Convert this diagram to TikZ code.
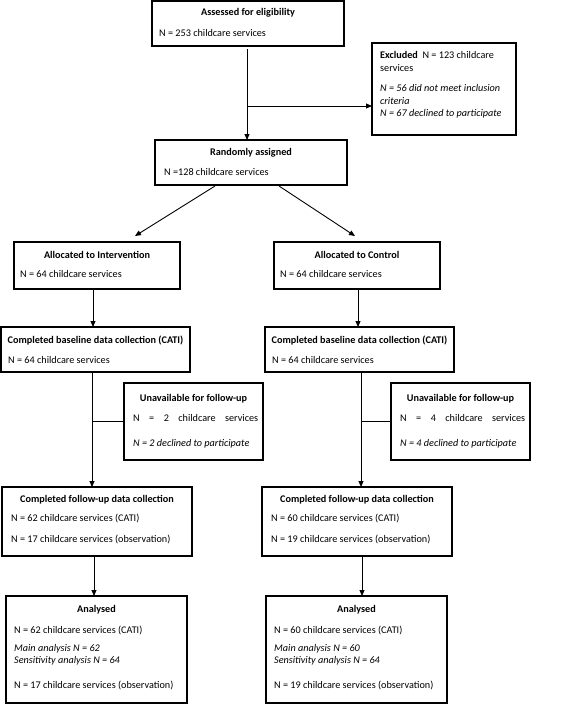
\documentclass[tikz,border=0pt]{standalone}
\usepackage{fontspec}
\setmainfont{Carlito}
\usetikzlibrary{arrows.meta,calc}
\begin{document}
\begin{tikzpicture}[x=1pt,y=-1pt,
  font=\fontsize{10.2}{13}\selectfont,
  box/.style={draw, line width=1.1pt, anchor=north west, inner sep=0pt, outer sep=0pt},
  ttl/.style={anchor=base, inner sep=0pt, font=\fontsize{10.2}{13}\selectfont\bfseries},
  txt/.style={anchor=base west, inner sep=0pt},
  itx/.style={anchor=base west, inner sep=0pt, font=\fontsize{10.2}{13}\selectfont\itshape},
  conn/.style={draw, line width=0.9pt},
  arr/.style={conn, -{Triangle[length=6pt,width=5pt]}}]
\useasboundingbox (0,0) rectangle (567,704);

% boxes
\node[box, minimum width=192pt, minimum height=45pt] (assess) at (152,1) {};
\node[box, minimum width=144pt, minimum height=92pt] (excl) at (372,43) {};
\node[box, minimum width=192pt, minimum height=45pt] (rand) at (155,140) {};
\node[box, minimum width=166pt, minimum height=47pt] (allocI) at (14,242) {};
\node[box, minimum width=166pt, minimum height=47pt] (allocC) at (274,242) {};
\node[box, minimum width=189pt, minimum height=45pt] (baseI) at (1,327) {};
\node[box, minimum width=189pt, minimum height=45pt] (baseC) at (265,327) {};
\node[box, minimum width=139pt, minimum height=77pt] (unavI) at (124,383) {};
\node[box, minimum width=139pt, minimum height=77pt] (unavC) at (391,383) {};
\node[box, minimum width=190pt, minimum height=69pt] (fuI) at (2,487) {};
\node[box, minimum width=190pt, minimum height=69pt] (fuC) at (262,487) {};
\node[box, minimum width=181pt, minimum height=107pt] (anI) at (6,596) {};
\node[box, minimum width=181pt, minimum height=107pt] (anC) at (266,596) {};

% texts
\node[ttl] (assessT) at ($(assess.north)+(0,15)$) {Assessed for eligibility};
\node[txt] (assessN) at ($(assess.north west)+(7,35)$) {N = 253 childcare services};

\node[txt] (exclA) at ($(excl.north west)+(8,15)$) {\textbf{Excluded}\ \ N = 123 childcare};
\node[txt] (exclB) at ($(excl.north west)+(8,28)$) {services};
\node[itx] (exclC) at ($(excl.north west)+(8,48)$) {N = 56 did not meet inclusion};
\node[itx] (exclD) at ($(excl.north west)+(8,61)$) {criteria};
\node[itx] (exclE) at ($(excl.north west)+(8,73)$) {N = 67 declined to participate};

\node[ttl] (randT) at ($(rand.north)+(0,15)$) {Randomly assigned};
\node[txt] (randN) at ($(rand.north west)+(9,35)$) {N =128 childcare services};

\node[ttl] (allocIT) at ($(allocI.north)+(0,16)$) {Allocated to Intervention};
\node[txt] (allocIN) at ($(allocI.north west)+(6,35)$) {N = 64 childcare services};
\node[ttl] (allocCT) at ($(allocC.north)+(0,16)$) {Allocated to Control};
\node[txt] (allocCN) at ($(allocC.north west)+(6,35)$) {N = 64 childcare services};

\node[ttl] (baseIT) at ($(baseI.north)+(0,16)$) {Completed baseline data collection (CATI)};
\node[txt] (baseIN) at ($(baseI.north west)+(7,36)$) {N = 64 childcare services};
\node[ttl] (baseCT) at ($(baseC.north)+(0,16)$) {Completed baseline data collection (CATI)};
\node[txt] (baseCN) at ($(baseC.north west)+(7,36)$) {N = 64 childcare services};

\node[ttl] (unavIT) at ($(unavI.north)+(0,18)$) {Unavailable for follow-up};
\node[txt] (unavIN) at ($(unavI.north west)+(9,38)$) {\makebox[125pt][s]{N = 2 childcare services}};
\node[itx] (unavID) at ($(unavI.north west)+(9,63)$) {N = 2 declined to participate};
\node[ttl] (unavCT) at ($(unavC.north)+(0,18)$) {Unavailable for follow-up};
\node[txt] (unavCN) at ($(unavC.north west)+(9,38)$) {\makebox[125pt][s]{N = 4 childcare services}};
\node[itx] (unavCD) at ($(unavC.north west)+(9,63)$) {N = 4 declined to participate};

\node[ttl] (fuIT) at ($(fuI.north)+(0,15)$) {Completed follow-up data collection};
\node[txt] (fuIA) at ($(fuI.north west)+(9,34)$) {N = 62 childcare services (CATI)};
\node[txt] (fuIB) at ($(fuI.north west)+(9,55)$) {N = 17 childcare services (observation)};
\node[ttl] (fuCT) at ($(fuC.north)+(0,15)$) {Completed follow-up data collection};
\node[txt] (fuCA) at ($(fuC.north west)+(9,34)$) {N = 60 childcare services (CATI)};
\node[txt] (fuCB) at ($(fuC.north west)+(9,55)$) {N = 19 childcare services (observation)};

\node[ttl] (anIT) at ($(anI.north)+(0,16)$) {Analysed};
\node[txt] (anIA) at ($(anI.north west)+(8,37)$) {N = 62 childcare services (CATI)};
\node[itx] (anIB) at ($(anI.north west)+(8,55)$) {Main analysis N = 62};
\node[itx] (anIC) at ($(anI.north west)+(8,67)$) {Sensitivity analysis N = 64};
\node[txt] (anID) at ($(anI.north west)+(8,92)$) {N = 17 childcare services (observation)};
\node[ttl] (anCT) at ($(anC.north)+(0,16)$) {Analysed};
\node[txt] (anCA) at ($(anC.north west)+(8,37)$) {N = 60 childcare services (CATI)};
\node[itx] (anCB) at ($(anC.north west)+(8,55)$) {Main analysis N = 60};
\node[itx] (anCC) at ($(anC.north west)+(8,67)$) {Sensitivity analysis N = 64};
\node[txt] (anCD) at ($(anC.north west)+(8,92)$) {N = 19 childcare services (observation)};

% connectors
\coordinate (a1) at (247,49);
\coordinate (br) at (247,106);
\draw[arr] (a1) -- (a1 |- rand.north);
\draw[arr] (br) -- (br -| excl.west);

\coordinate (dL0) at (215,186);
\coordinate (dL1) at (135,236);
\coordinate (dR0) at (279,186);
\coordinate (dR1) at (355,236);
\draw[arr] (dL0) -- (dL1);
\draw[arr] (dR0) -- (dR1);

\coordinate (vA) at (93,0);
\coordinate (vB) at (358,0);
\draw[arr] (allocI.south -| vA) -- (baseI.north -| vA);
\draw[arr] (allocC.south -| vB) -- (baseC.north -| vB);

\coordinate (vI) at (92,0);
\coordinate (vC) at (361,0);
\draw[arr] (baseI.south -| vI) -- (fuI.north -| vI);
\draw[arr] (baseC.south -| vC) -- (fuC.north -| vC);
\draw[conn] (unavI.west -| vI) -- (unavI.west);
\draw[conn] (unavC.west -| vC) -- (unavC.west);

\coordinate (wI) at (94,0);
\coordinate (wC) at (362,0);
\draw[arr] (fuI.south -| wI) -- (anI.north -| wI);
\draw[arr] (fuC.south -| wC) -- (anC.north -| wC);
\end{tikzpicture}
\end{document}
